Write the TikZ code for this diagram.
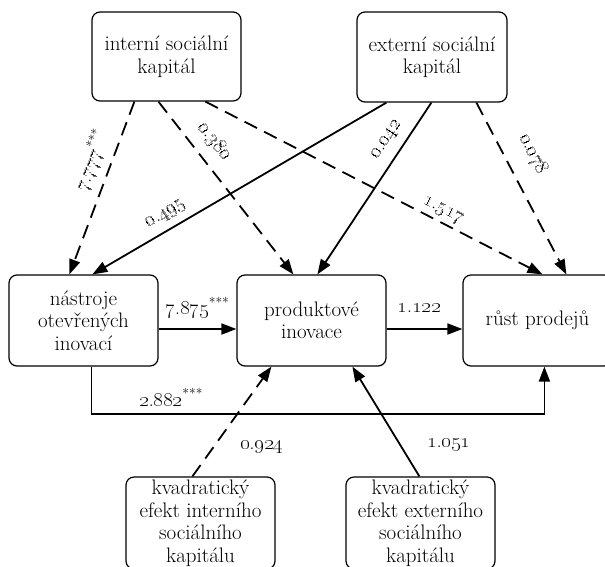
\documentclass[tikz,border=0pt]{standalone}
\usetikzlibrary{arrows.meta}
\newcommand\diagfont{\fontsize{21}{22.5}\selectfont}
\newcommand\numfont{\fontsize{19.5}{22.5}\selectfont}
\newcommand\osn[1]{\oldstylenums{#1}}
\begin{document}
\begin{tikzpicture}[x=1pt,y=-1pt,
  boxnode/.style={draw, line width=1.2pt, rounded corners=8pt, align=center,
    minimum width=149pt, minimum height=91pt, inner sep=2pt, font=\diagfont},
  link/.style={line width=1.8pt, -{Triangle[length=15pt,width=11pt]}},
  dashedlink/.style={link, dash pattern=on 14pt off 8pt},
  wlabel/.style={font=\numfont, inner sep=1pt}]
\useasboundingbox (0,0) rectangle (605,566);

% boxes
\node[boxnode, minimum height=89pt] (int) at (166.5,56.5) {interní sociální\\kapitál};
\node[boxnode, minimum width=150pt, minimum height=90pt] (ext) at (432,57) {externí sociální\\kapitál};
\node[boxnode] (nas) at (83.5,320.5) {nástroje\\otevřených\\inovací};
\node[boxnode] (prod) at (311.5,320.5) {produktové\\inovace};
\node[boxnode] (rust) at (537.5,320.5) {růst prodejů};
\node[boxnode, minimum height=92pt] (kint) at (200.5,523) {kvadratický\\efekt interního\\sociálního\\kapitálu};
\node[boxnode, minimum height=92pt] (kext) at (420.5,523) {kvadratický\\efekt externího\\sociálního\\kapitálu};

% paths from internal social capital
\draw[dashedlink] ([xshift=43pt]int.south west) --
  node[wlabel, pos=0.38, sloped, yshift=19.6pt] {\osn{7}.\osn{777}\textsuperscript{***}}
  ([xshift=61pt]nas.north west);
\draw[dashedlink] ([xshift=67pt]int.south west) --
  node[wlabel, pos=0.30, sloped, yshift=19.7pt] {\osn{0}.\osn{380}}
  ([xshift=57pt]prod.north west);
\draw[dashedlink] ([xshift=114pt]int.south west) --
  node[wlabel, pos=0.69, sloped, yshift=11pt] {\osn{1}.\osn{517}}
  ([xshift=80pt]rust.north west);

% paths from external social capital
\draw[link] ([xshift=30pt]ext.south west) --
  node[wlabel, pos=0.724, sloped, yshift=14.2pt] {\osn{0}.\osn{495}}
  ([xshift=84pt]nas.north west);
\draw[link] ([xshift=75pt]ext.south west) --
  node[wlabel, pos=0.27, sloped, yshift=15.9pt] {\osn{0}.\osn{042}}
  ([xshift=81pt]prod.north west);
\draw[dashedlink] ([xshift=120pt]ext.south west) --
  node[wlabel, pos=0.371, sloped, yshift=26.6pt] {\osn{0}.\osn{078}}
  ([xshift=104pt]rust.north west);

% middle row
\draw[link] ([yshift=-8.5pt]nas.east) --
  node[wlabel, midway, yshift=21pt] {\osn{7}.\osn{875}\textsuperscript{***}}
  ([yshift=-8.5pt]prod.west);
\draw[link] ([yshift=-8.5pt]prod.east) --
  node[wlabel, pos=0.43, yshift=21pt] {\osn{1}.\osn{122}}
  ([yshift=-8.5pt]rust.west);
\draw[link] ([xshift=83pt]nas.south west) -- ++(0,47) -|
  node[wlabel, pos=0.088, yshift=16pt] {\osn{2}.\osn{882}\textsuperscript{***}}
  ([xshift=82pt]rust.south west);

% quadratic effects
\draw[dashedlink] ([xshift=67pt]kint.north west) --
  node[wlabel, pos=0.27, xshift=48pt] {\osn{0}.\osn{924}}
  ([xshift=35pt]prod.south west);
\draw[link] ([xshift=74pt]kext.north west) --
  node[wlabel, pos=0.29, xshift=49pt] {\osn{1}.\osn{051}}
  ([xshift=116pt]prod.south west);
\end{tikzpicture}
\end{document}
